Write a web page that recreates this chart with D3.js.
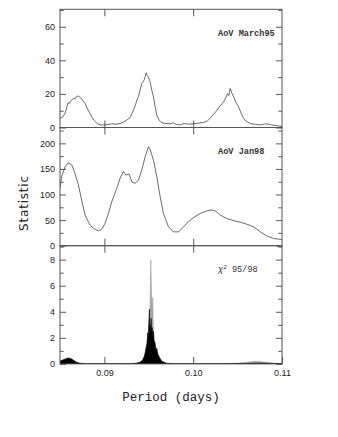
<!DOCTYPE html>
<html>
<head>
<meta charset="utf-8">
<script src="https://cdn.jsdelivr.net/npm/d3@7"></script>
<style>
  body { margin: 0; background: #fff; }
  svg { display: block; }
  .tick text { font-family: "Liberation Sans", Arial, sans-serif; font-size: 9px; fill: #222; }
  .tick line { stroke: #444; stroke-width: 0.9; }
</style>
</head>
<body>
<div id="chart"></div>
<script>
// AoV March95 : [period, statistic]
const aovMarch95 = [
  [0.0850, 5.4], [0.08530, 6.2], [0.08556, 8.4], [0.08570, 10.5], [0.08590, 14.8], [0.08605, 14.3],
  [0.08625, 16.0], [0.08650, 17.3], [0.08670, 17.0], [0.08690, 18.6], [0.08707, 18.7], [0.08726, 18.0],
  [0.08750, 16.5], [0.08782, 14.3], [0.08810, 11.0], [0.08838, 8.4], [0.08865, 5.6], [0.08895, 3.6],
  [0.08920, 2.4], [0.08951, 1.6], [0.08990, 1.5], [0.09026, 1.6], [0.09080, 2.2], [0.09130, 2.0],
  [0.09177, 2.4], [0.09215, 3.2], [0.09252, 4.4], [0.09290, 6.0], [0.09310, 8.2], [0.09327, 10.3],
  [0.09350, 13.5], [0.09370, 17.0], [0.09383, 18.3], [0.09400, 22.0], [0.09421, 26.3], [0.09435, 27.0],
  [0.09447, 28.3], [0.09460, 30.5], [0.09470, 32.6], [0.09480, 31.0], [0.09489, 30.6], [0.09500, 29.5],
  [0.09515, 27.3], [0.09530, 23.0], [0.09553, 18.3], [0.09570, 12.5], [0.09590, 7.4], [0.09620, 4.0],
  [0.09647, 2.8], [0.09690, 2.4], [0.09741, 2.2], [0.09780, 2.8], [0.09810, 1.8], [0.09853, 1.6],
  [0.09900, 2.4], [0.09950, 2.0], [0.10004, 2.2], [0.10060, 2.6], [0.10110, 3.0], [0.10154, 3.6],
  [0.10190, 5.5], [0.10230, 7.8], [0.10267, 10.3], [0.10300, 12.6], [0.10342, 15.3], [0.10365, 17.5],
  [0.10387, 20.2], [0.10400, 19.0], [0.10417, 23.3], [0.10435, 20.5], [0.10455, 18.3], [0.10480, 15.0],
  [0.10511, 12.3], [0.10540, 8.5], [0.10568, 5.4], [0.10600, 3.6], [0.10643, 2.4], [0.10700, 1.8],
  [0.10756, 1.6], [0.10800, 2.0], [0.10831, 2.2], [0.10880, 1.6], [0.10944, 1.0], [0.11000, 0.6]
];

// AoV Jan98 : [period, statistic]
const aovJan98 = [
  [0.08500, 112], [0.08519, 135], [0.08556, 154], [0.08594, 162], [0.08632, 158], [0.08669, 141],
  [0.08707, 119], [0.08744, 89], [0.08782, 60], [0.08838, 40], [0.08895, 32], [0.08932, 29],
  [0.08970, 32], [0.09008, 44], [0.09045, 63], [0.09083, 86], [0.09139, 112], [0.09177, 132],
  [0.09214, 145], [0.09244, 138], [0.09278, 140], [0.09308, 125], [0.09346, 122], [0.09383, 128],
  [0.09421, 148], [0.09459, 174], [0.09496, 193.5], [0.09515, 188], [0.09553, 167], [0.09590, 135],
  [0.09628, 96], [0.09665, 63], [0.09722, 37], [0.09778, 27], [0.09835, 27], [0.09891, 37],
  [0.09947, 47], [0.10004, 55], [0.10079, 63], [0.10154, 68], [0.10211, 70], [0.10248, 68],
  [0.10305, 60], [0.10380, 53], [0.10455, 49], [0.10530, 46], [0.10605, 42], [0.10680, 37],
  [0.10756, 27], [0.10831, 19], [0.10906, 14], [0.11000, 12]
];

// chi^2 95/98, dense black part (envelope) : [period, chi2]
const chi2Black = [
  [0.0850, 0.22], [0.0853, 0.30], [0.0856, 0.38], [0.0859, 0.46], [0.0862, 0.42], [0.0865, 0.30],
  [0.0868, 0.15], [0.0872, 0.06], [0.0878, 0.02], [0.0890, 0.01], [0.0920, 0.01], [0.0932, 0.03],
  [0.0936, 0.06], [0.0940, 0.12], [0.0943, 0.30], [0.0945, 0.60], [0.0946, 0.9], [0.0947, 1.3],
  [0.0948, 1.6], [0.09488, 2.4], [0.09494, 2.0], [0.0950, 3.2], [0.09507, 4.2], [0.09511, 2.6],
  [0.09515, 3.0], [0.09520, 2.2], [0.09526, 3.5], [0.09531, 2.4], [0.09537, 2.8], [0.09545, 2.2],
  [0.09552, 2.5], [0.09560, 1.8], [0.09571, 1.6], [0.0958, 1.1], [0.0959, 1.2], [0.0960, 0.8],
  [0.0962, 0.5], [0.09647, 0.2], [0.0970, 0.05], [0.0980, 0.01], [0.1040, 0.01], [0.1060, 0.03],
  [0.1075, 0.05], [0.1090, 0.02], [0.1100, 0.01]
];

// chi^2 95/98, grey part : [period, chi2]
const chi2Grey = [
  [0.09490, 0], [0.09505, 1.5], [0.09515, 5.0], [0.09523, 8.0], [0.09530, 5.5], [0.09537, 4.0],
  [0.09545, 5.1], [0.09552, 2.5], [0.09565, 0.8], [0.09590, 0]
];
const chi2GreyRight = [
  [0.1035, 0.01], [0.1050, 0.05], [0.1060, 0.11], [0.1066, 0.16], [0.1070, 0.18], [0.1078, 0.15],
  [0.1085, 0.10], [0.1092, 0.05], [0.1100, 0.03]
];

const periodTicks = [0.09, 0.10, 0.11];
const periodTickLabels = ['0.09', '0.10', '0.11'];

const width = 338;
const height = 437;
const margin = {left: 60, right: 56, top: 9.3};
const panelH = 118.2;
const plotW = width - margin.left - margin.right;

const x = d3.scaleLinear().domain([0.085, 0.11]).range([0, plotW]);

const panels = [
  {label: 'AoV March95', domain: [0, 70.4], major: [0, 20, 40, 60], minor: [10, 30, 50, 70], lines: [aovMarch95]},
  {label: 'AoV Jan98', domain: [0, 231], major: [0, 50, 100, 150, 200], minor: [25, 75, 125, 175, 225], lines: [aovJan98]},
  {label: 'chi', domain: [0, 9.07], major: [0, 2, 4, 6, 8], minor: [1, 3, 5, 7, 9], chi: true}
];

const svg = d3.select('#chart')
  .append('svg')
  .attr('width', width)
  .attr('height', height);

panels.forEach(function(p, i) {
  const g = svg.append('g')
    .attr('transform', 'translate(' + margin.left + ',' + (margin.top + i * panelH) + ')');

  const y = d3.scaleLinear().domain(p.domain).range([panelH, 0]);

  g.append('clipPath').attr('id', 'clip' + i)
    .append('rect').attr('width', plotW).attr('height', panelH);

  const plot = g.append('g').attr('clip-path', 'url(#clip' + i + ')');

  if (p.chi) {
    const area = d3.area()
      .x(function(d) { return x(d[0]); })
      .y0(panelH)
      .y1(function(d) { return y(d[1]); });
    plot.append('path').datum(chi2GreyRight)
      .attr('d', area).attr('fill', '#999').attr('stroke', '#888').attr('stroke-width', 0.6);
    plot.append('path').datum(chi2Grey)
      .attr('d', area).attr('fill', '#a6a6a6').attr('stroke', '#999').attr('stroke-width', 0.5);
    plot.append('path').datum(chi2Black)
      .attr('d', area).attr('fill', '#000').attr('stroke', '#000').attr('stroke-width', 0.6);
  } else {
    const line = d3.line()
      .x(function(d) { return x(d[0]); })
      .y(function(d) { return y(d[1]); });
    p.lines.forEach(function(data) {
      plot.append('path').datum(data)
        .attr('d', line)
        .attr('fill', 'none')
        .attr('stroke', '#444')
        .attr('stroke-width', 0.8);
    });
  }

  // y axes (major + minor, left and right, ticks inward)
  const minor = p.minor.filter(function(v) { return v < p.domain[1]; });
  g.append('g').call(d3.axisLeft(y).tickValues(p.major).tickSize(-6).tickPadding(5).tickFormat(d3.format('d')));
  g.append('g').call(d3.axisLeft(y).tickValues(minor).tickSize(-3.7).tickFormat(''));
  g.append('g').attr('transform', 'translate(' + plotW + ',0)')
    .call(d3.axisRight(y).tickValues(p.major).tickSize(-6).tickFormat(''));
  g.append('g').attr('transform', 'translate(' + plotW + ',0)')
    .call(d3.axisRight(y).tickValues(minor).tickSize(-3.7).tickFormat(''));

  // x ticks top and bottom
  g.append('g').call(d3.axisTop(x).tickValues(periodTicks.slice(0, 2)).tickSize(-7).tickFormat(''));
  const bottom = g.append('g').attr('transform', 'translate(0,' + panelH + ')');
  if (i === panels.length - 1) {
    bottom.call(d3.axisBottom(x).tickValues(periodTicks).tickSize(-7).tickPadding(6)
      .tickFormat(function(d, k) { return periodTickLabels[k]; }));
  } else {
    bottom.call(d3.axisBottom(x).tickValues(periodTicks.slice(0, 2)).tickSize(-7).tickFormat(''));
  }

  g.selectAll('.domain').remove();

  g.append('rect')
    .attr('width', plotW).attr('height', panelH)
    .attr('fill', 'none').attr('stroke', '#555').attr('stroke-width', 1);

  const lbl = g.append('text')
    .attr('x', 158)
    .attr('y', 26.5)
    .attr('font-family', '"Liberation Mono", "DejaVu Sans Mono", monospace')
    .attr('font-size', 8.6)
    .attr('font-weight', 'bold')
    .attr('fill', '#333');
  if (p.chi) {
    lbl.attr('font-weight', 'normal');
    lbl.append('tspan').text('\u03c7').attr('font-style', 'italic');
    lbl.append('tspan').text('2').attr('font-size', 6).attr('dy', -3.5);
    lbl.append('tspan').text(' 95/98').attr('dy', 3.5);
  } else {
    lbl.text(p.label);
  }
});

svg.append('text')
  .attr('x', margin.left + plotW / 2)
  .attr('y', 401)
  .attr('text-anchor', 'middle')
  .attr('font-family', '"Liberation Mono", "DejaVu Sans Mono", monospace')
  .attr('font-size', 12.5)
  .attr('fill', '#222')
  .text('Period (days)');

svg.append('text')
  .attr('transform', 'translate(27.5,203) rotate(-90)')
  .attr('text-anchor', 'middle')
  .attr('font-family', '"DejaVu Sans", sans-serif')
  .attr('font-size', 12)
  .attr('letter-spacing', 0.8)
  .attr('fill', '#222')
  .text('Statistic');
</script>
</body>
</html>
